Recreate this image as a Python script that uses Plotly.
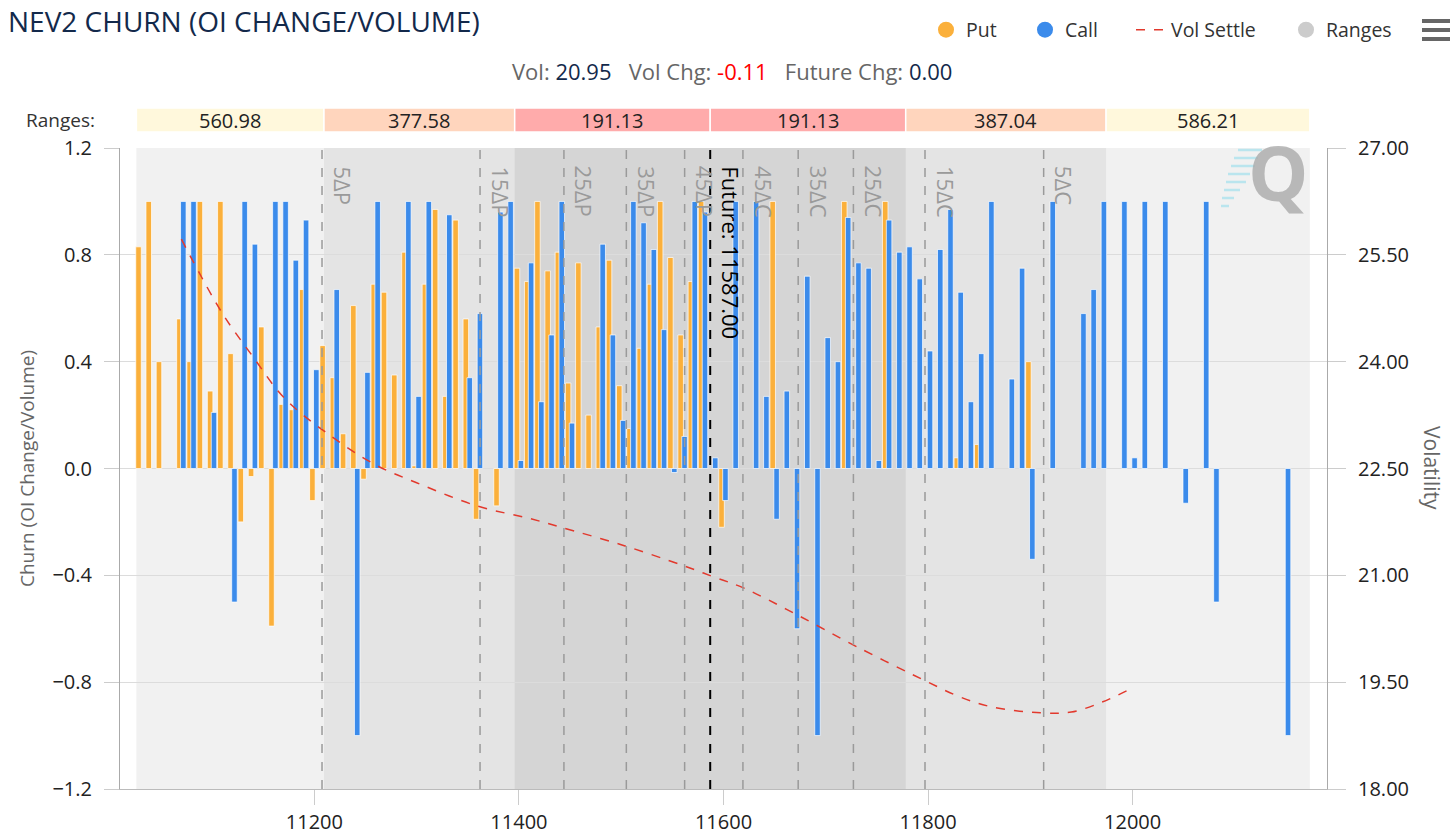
import plotly.graph_objects as go

# ---------------- data ----------------
FUTURE = 11587.00
VOL = 20.95
VOL_CHG = -0.11
FUT_CHG = 0.00

put_strikes = [11030, 11040, 11050, 11070, 11080, 11090, 11100, 11110, 11120, 11130,
               11140, 11150, 11160, 11170, 11180, 11190, 11200, 11210, 11220, 11230,
               11240, 11250, 11260, 11270, 11280, 11290, 11300, 11310, 11320, 11330,
               11340, 11350, 11360, 11380, 11400, 11410, 11420, 11430, 11440, 11450,
               11460, 11470, 11480, 11490, 11500, 11510, 11520, 11530, 11540, 11550,
               11560, 11570, 11580, 11600, 11650, 11720, 11760, 11830, 11850, 11900]
put_churn = [0.83, 1.0, 0.40, 0.56, 0.40, 1.0, 0.29, 1.0, 0.43, -0.20,
             -0.03, 0.53, -0.59, 0.24, 0.22, 0.67, -0.12, 0.46, 0.34, 0.13,
             0.61, -0.04, 0.69, 0.66, 0.35, 0.81, 0.01, 0.69, 0.97, 0.27,
             0.93, 0.56, -0.19, -0.14, 0.75, 0.70, 1.0, 0.74, 0.81, 0.32,
             0.77, 0.20, 0.53, 0.78, 0.31, 0.15, 0.45, 0.69, 1.0, 0.79,
             0.50, 0.70, 1.0, -0.22, 1.0, 1.0, 1.0, 0.04, 0.09, 0.40]

call_strikes = [11070, 11080, 11100, 11120, 11130, 11140, 11160, 11170, 11180, 11190,
                11200, 11220, 11240, 11250, 11260, 11290, 11300, 11310, 11330, 11350,
                11360, 11380, 11390, 11400, 11410, 11420, 11430, 11440, 11450, 11480,
                11490, 11500, 11510, 11520, 11530, 11540, 11550, 11560, 11570, 11580,
                11590, 11600, 11610, 11630, 11640, 11650, 11660, 11670, 11680, 11690,
                11700, 11710, 11720, 11730, 11740, 11750, 11760, 11770, 11780, 11790,
                11800, 11810, 11820, 11830, 11840, 11850, 11860, 11880, 11890, 11900,
                11920, 11950, 11960, 11970, 11990, 12000, 12010, 12030, 12050, 12070,
                12080, 12150]
call_churn = [1.0, 1.0, 0.21, -0.50, 1.0, 0.84, 1.0, 1.0, 0.78, 0.93,
              0.37, 0.67, -1.0, 0.36, 1.0, 1.0, 0.27, 1.0, 0.95, 0.34,
              0.58, 0.96, 1.0, 0.03, 0.77, 0.25, 0.50, 1.0, 0.17, 0.84,
              0.50, 0.18, 1.0, 0.92, 0.82, 0.52, -0.015, 0.12, 1.0, 0.96,
              0.04, -0.12, 1.0, 1.0, 0.27, -0.19, 0.29, -0.60, 0.72, -1.0,
              0.49, 0.40, 0.94, 0.77, 0.75, 0.03, 0.93, 0.81, 0.83, 0.71,
              0.44, 0.82, 0.97, 0.66, 0.25, 0.43, 1.0, 0.335, 0.75, -0.34,
              1.0, 0.58, 0.67, 1.0, 1.0, 0.04, 1.0, 1.0, -0.13, 1.0,
              -0.50, -1.0]

vol_strikes = [11070, 11110, 11140, 11170, 11210, 11260, 11300, 11360, 11410, 11440,
               11500, 11560, 11590, 11620, 11670, 11730, 11800, 11830, 11860, 11910,
               11940, 11970, 12000]
vol_settle = [25.72, 24.68, 24.07, 23.50, 23.02, 22.55, 22.30, 21.97, 21.80, 21.68,
              21.43, 21.14, 20.98, 20.82, 20.46, 20.00, 19.50, 19.30, 19.16, 19.07,
              19.08, 19.22, 19.42]

range_below = [560.98, 377.58, 191.13]   # distances below the future
range_above = [191.13, 387.04, 586.21]   # distances above the future

delta_labels = ["5ΔP", "15ΔP", "25ΔP", "35ΔP", "45ΔP", "45ΔC", "35ΔC", "25ΔC", "15ΔC", "5ΔC"]
delta_strikes = [11207.5, 11362, 11444, 11505, 11562, 11619, 11673, 11727, 11797, 11913]

# ---------------- styling ----------------
W, H = 1456, 838
ML, MR, MT, MB = 120, 129, 148, 49
PW, PH = W - ML - MR, H - MT - MB
FONT = "Open Sans"
PUT_C = "#FBB03B"
CALL_C = "#3B8BEB"
VOL_C = "#E2392D"


def pxx(X):
    return (X - ML) / PW


def pxy(Y):
    return (H - MB - Y) / PH


edges = [FUTURE - r for r in range_below] + [FUTURE] + [FUTURE + r for r in range_above]
range_texts = [f"{r:.2f}" for r in range_below] + [f"{r:.2f}" for r in range_above]
box_colors = ["#FFF8DC", "#FFD5BD", "#FFABAB", "#FFABAB", "#FFD5BD", "#FFF8DC"]

fig = go.Figure()

fig.add_trace(go.Bar(x=put_strikes, y=put_churn, width=5.4, offset=-4.6,
                     marker=dict(color=PUT_C, line=dict(color="white", width=0.7)),
                     name="Put", showlegend=False))
fig.add_trace(go.Bar(x=call_strikes, y=call_churn, width=5.4, offset=-0.8,
                     marker=dict(color=CALL_C, line=dict(color="white", width=0.7)),
                     name="Call", showlegend=False))
fig.add_trace(go.Scatter(x=vol_strikes, y=vol_settle, yaxis="y2", mode="lines",
                         line=dict(color=VOL_C, width=1.5, dash="dash", shape="spline"),
                         name="Vol Settle", legend="legend3"))

# legend-only entries
fig.add_trace(go.Scatter(x=[None], y=[None], mode="markers", name="Put",
                         marker=dict(color=PUT_C, size=16), legend="legend"))
fig.add_trace(go.Scatter(x=[None], y=[None], mode="markers", name="Call",
                         marker=dict(color=CALL_C, size=16), legend="legend2"))
fig.add_trace(go.Scatter(x=[None], y=[None], mode="markers", name="Ranges",
                         marker=dict(color="#CCCCCC", size=16), legend="legend4"))

shapes = []
# background range bands
shapes.append(dict(type="rect", xref="x", yref="paper", x0=edges[0], x1=edges[6], y0=0, y1=1,
                   fillcolor="#F1F1F1", line=dict(width=0), layer="below"))
shapes.append(dict(type="rect", xref="x", yref="paper", x0=edges[1], x1=edges[5], y0=0, y1=1,
                   fillcolor="#E4E4E4", line=dict(width=0), layer="below"))
shapes.append(dict(type="rect", xref="x", yref="paper", x0=edges[2], x1=edges[4], y0=0, y1=1,
                   fillcolor="#D5D5D5", line=dict(width=0), layer="below"))

annotations = []
# header range boxes
for i in range(6):
    shapes.append(dict(type="rect", xref="x", yref="paper", x0=edges[i], x1=edges[i + 1],
                       y0=pxy(132), y1=pxy(108), fillcolor=box_colors[i],
                       line=dict(color="white", width=1.5)))
    annotations.append(dict(x=(edges[i] + edges[i + 1]) / 2, y=pxy(120), xref="x", yref="paper",
                            text=range_texts[i], showarrow=False, xanchor="center",
                            yanchor="middle",
                            font=dict(family=FONT, size=20, color="#222222")))
annotations.append(dict(x=pxx(97), y=pxy(120), xref="paper", yref="paper", text="Ranges:",
                        xanchor="right", yanchor="middle", showarrow=False,
                        font=dict(family=FONT, size=19, color="#333333")))

# delta lines
for lbl, ds in zip(delta_labels, delta_strikes):
    shapes.append(dict(type="line", xref="x", yref="paper", x0=ds, x1=ds, y0=0, y1=1,
                       line=dict(color="#9A9A9A", width=1.5, dash="dash")))
    annotations.append(dict(x=ds, y=1, xref="x", yref="paper", text=lbl, textangle=90,
                            xanchor="left", yanchor="top", xshift=4, yshift=-16, showarrow=False,
                            font=dict(family=FONT, size=22, color="#9A9A9A")))
shapes.append(dict(type="line", xref="x", yref="paper", x0=FUTURE, x1=FUTURE, y0=0, y1=1,
                   line=dict(color="#000000", width=2, dash="dash")))
annotations.append(dict(x=FUTURE, y=1, xref="x", yref="paper", text=f"Future: {FUTURE:.2f}",
                        textangle=90, xanchor="left", yanchor="top", xshift=4, yshift=-16,
                        showarrow=False, font=dict(family=FONT, size=22, color="#000000")))

# subtitle
sub = (f'Vol: <span style="color:#13294B">{VOL:.2f}</span>&nbsp;&nbsp;&nbsp;'
       f'Vol Chg: <span style="color:#FF0000">{VOL_CHG:.2f}</span>&nbsp;&nbsp;&nbsp;'
       f'Future Chg: <span style="color:#13294B">{FUT_CHG:.2f}</span>')
annotations.append(dict(x=pxx(732), y=pxy(71), xref="paper", yref="paper", text=sub,
                        xanchor="center", yanchor="middle", showarrow=False,
                        font=dict(family=FONT, size=22, color="#666666")))

# right axis title
annotations.append(dict(x=pxx(1432), y=pxy(468), xref="paper", yref="paper", text="Volatility",
                        textangle=90, xanchor="center", yanchor="middle", showarrow=False,
                        font=dict(family=FONT, size=21, color="#666666")))

# watermark
for k, (xa, xb) in enumerate([(1238, 1262), (1234, 1258), (1231, 1255), (1228, 1250),
                              (1226, 1246), (1224, 1240), (1222, 1234), (1221, 1229)]):
    Y = 150 + k * 8
    shapes.append(dict(type="line", xref="paper", yref="paper", x0=pxx(xa), x1=pxx(xb),
                       y0=pxy(Y), y1=pxy(Y), line=dict(color="rgba(120,215,235,0.45)", width=2.5)))
annotations.append(dict(x=pxx(1278), y=pxy(172), xref="paper", yref="paper", text="<b>Q</b>",
                        xanchor="center", yanchor="middle", showarrow=False,
                        font=dict(family=FONT, size=76, color="rgba(170,170,170,0.8)")))

# hamburger menu icon
for Y in (21, 30, 39):
    shapes.append(dict(type="line", xref="paper", yref="paper", x0=pxx(1422), x1=pxx(1450),
                       y0=pxy(Y), y1=pxy(Y), line=dict(color="#666666", width=4)))

legend_common = dict(orientation="h", yanchor="middle", xanchor="left", y=pxy(30),
                     bgcolor="rgba(0,0,0,0)", font=dict(family=FONT, size=19.5, color="#333333"),
                     itemclick=False, itemdoubleclick=False)

fig.update_layout(
    width=W, height=H,
    margin=dict(l=ML, r=MR, t=MT, b=MB, autoexpand=False),
    paper_bgcolor="white", plot_bgcolor="white",
    barmode="overlay",
    font=dict(family=FONT, color="#333333"),
    title=dict(text="NEV2 CHURN (OI CHANGE/VOLUME)", xref="container", yref="container",
               x=8 / W, xanchor="left", y=1 - 22 / H, yanchor="middle",
               font=dict(family=FONT, size=28, color="#13294B")),
    xaxis=dict(range=[11010, 12190], tick0=11200, dtick=200, tickformat="d", ticks="outside",
               ticklen=15, tickcolor="#CCCCCC", showline=True, linecolor="#BBBBBB",
               showgrid=False, zeroline=False, automargin=False,
               tickfont=dict(family=FONT, size=20, color="#222222")),
    yaxis=dict(range=[-1.2, 1.2], tick0=0, dtick=0.4, tickformat=".1f", ticks="outside",
               ticklen=15, tickcolor="#CCCCCC", showline=True, linecolor="#AAAAAA",
               gridcolor="#DCDCDC", zeroline=False, ticklabelstandoff=8, automargin=False,
               tickfont=dict(family=FONT, size=20, color="#222222"),
               title=dict(text="Churn (OI Change/Volume)", standoff=12,
                          font=dict(family=FONT, size=19, color="#666666"))),
    yaxis2=dict(range=[18, 27], tick0=18, dtick=1.5, tickformat=".2f", overlaying="y",
                side="right", ticks="outside", ticklen=18, tickcolor="#CCCCCC", showline=True,
                linecolor="#AAAAAA", showgrid=False, zeroline=False, ticklabelstandoff=8,
                automargin=False, tickfont=dict(family=FONT, size=20, color="#222222")),
    legend=dict(x=pxx(926), **legend_common),
    legend2=dict(x=pxx(1025), **legend_common),
    legend3=dict(x=pxx(1131), **legend_common),
    legend4=dict(x=pxx(1286), **legend_common),
    shapes=shapes,
    annotations=annotations,
)

fig.write_html("out.html")
